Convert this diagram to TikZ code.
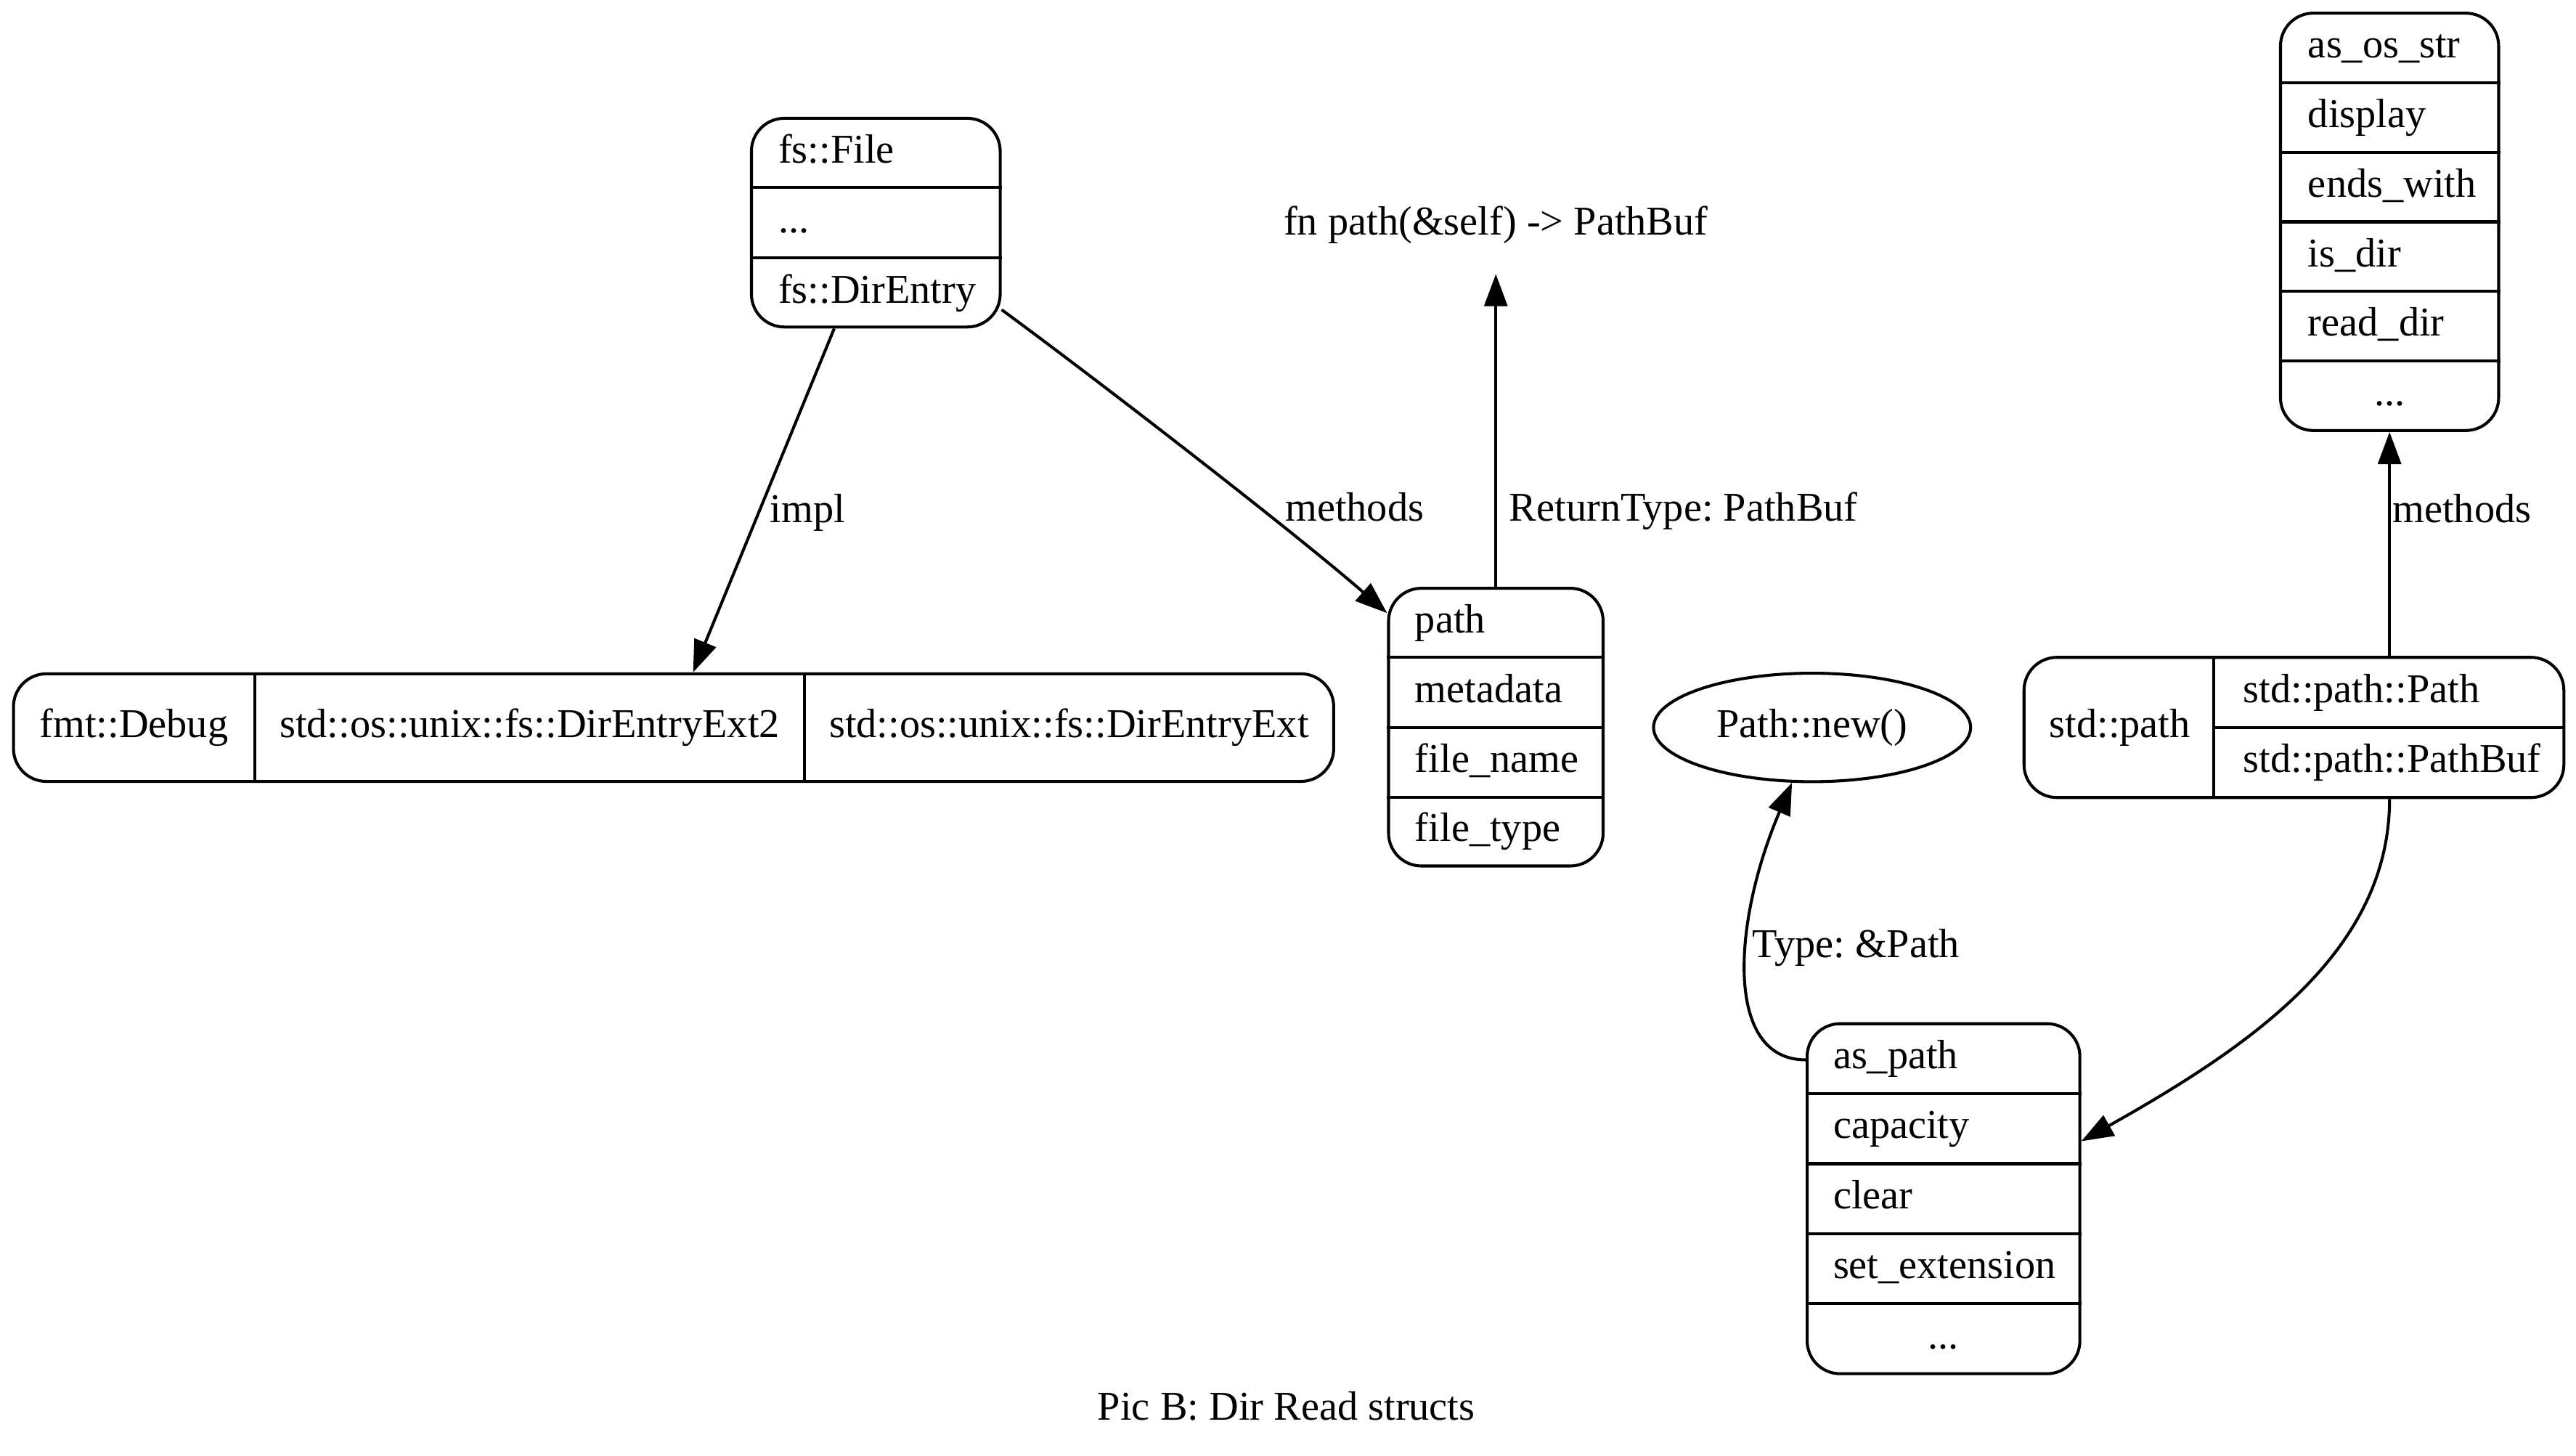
\documentclass[tikz,border=0pt]{standalone}
\usepackage{fontspec}
\setmainfont{Liberation Serif}
\usepackage{tikz}
\usetikzlibrary{calc}
\usetikzlibrary{shapes.geometric}
\usetikzlibrary{arrows.meta}
\tikzset{>={Triangle[length=19.5pt,width=14pt]}}
\frenchspacing

\begin{document}
\begin{tikzpicture}[x=1pt, y=-1pt, line width=1.8pt,
	every node/.style={font=\fontsize{24.9pt}{30pt}\selectfont, inner sep=0pt, text height=18pt, text depth=6pt},
	record/.style={draw, rounded corners=20pt}]
	\useasboundingbox (0,0) rectangle (1568,885.7);

	%% fs::File
	\node[record, minimum width=151.4pt, minimum height=127pt] (file) at (533.1,135.5) {};
	\node[anchor=west] (fsfile) at (472.9,93.2) {fs::File};
	\node[anchor=west] (fsdots) at (472.9,135.8) {...};
	\node[anchor=west] (fsentry) at (472.9,178.4) {fs::DirEntry};
	\draw (file.west |- 0,114.2) -- (file.east |- 0,114.2);
	\draw (file.west |- 0,156.8) -- (file.east |- 0,156.8);

	%% Traits
	\node[record, minimum width=803.6pt, minimum height=65.5pt] (row) at (410,442.8) {};
	\node[minimum width=147pt] (debug) at (81.5,442.8) {fmt::Debug};
	\node[minimum width=334.8pt] (ext2) at (322.4,442.8) {std::os::unix::fs::DirEntryExt2};
	\node[minimum width=321.8pt] (ext) at (650.7,442.8) {std::os::unix::fs::DirEntryExt};
	\draw (155,0 |- row.north) -- (155,0 |- row.south);
	\draw (489.8,0 |- row.north) -- (489.8,0 |- row.south);

	%% DirEntry methods
	\node[record, minimum width=130.6pt, minimum height=169pt] (pathbox) at (910.5,442.5) {};
	\node[anchor=west] (mpath) at (860.4,379.2) {path};
	\node[anchor=west] (mmeta) at (860.4,421.5) {metadata};
	\node[anchor=west] (mname) at (860.4,464.2) {file\_name};
	\node[anchor=west] (mtype) at (860.4,506.2) {file\_type};
	\draw (pathbox.west |- 0,400) -- (pathbox.east |- 0,400);
	\draw (pathbox.west |- 0,442.8) -- (pathbox.east |- 0,442.8);
	\draw (pathbox.west |- 0,485.3) -- (pathbox.east |- 0,485.3);

	\node[minimum height=58pt] (fnpath) at (910.5,136.9) {fn path(\&self) -> PathBuf};

	%% Path::new()
	\node[draw, ellipse, minimum width=193pt, minimum height=66pt] (pnew) at (1103,442.7) {};
	\node (pnewtxt) at (1103,442.7) {Path::new()};

	%% std::path
	\node[record, minimum width=328.6pt, minimum height=85.3pt] (spath) at (1396.3,442.7) {};
	\node[minimum width=116.5pt] (spathtxt) at (1290.3,442.7) {std::path};
	\node[minimum width=212pt, minimum height=85.3pt] (pcol) at (1454.5,442.7) {};
	\node[anchor=west] (spathp) at (1364.5,421.5) {std::path::Path};
	\node[anchor=west] (spathb) at (1364.5,464.2) {std::path::PathBuf};
	\draw (pcol.north west) -- (pcol.south west);
	\draw (pcol.west) -- (pcol.east);

	%% Path methods
	\node[record, minimum width=132.8pt, minimum height=254pt] (osbox) at (1454.5,135) {};
	\node[anchor=west] (osstr) at (1404,29.2) {as\_os\_str};
	\node[anchor=west] (osdisp) at (1404,71.5) {display};
	\node[anchor=west] (osends) at (1404,113.8) {ends\_with};
	\node[anchor=west] (osdir) at (1404,156.2) {is\_dir};
	\node[anchor=west] (osread) at (1404,198.5) {read\_dir};
	\node (osdots) at (1454.5,240.8) {...};
	\foreach \y in {50.3,92.7,135,177.3,219.7}
		\draw (osbox.west |- 0,\y) -- (osbox.east |- 0,\y);

	%% PathBuf methods
	\node[record, minimum width=166pt, minimum height=213pt] (asbox) at (1183,729.5) {};
	\node[anchor=west] (aspath) at (1115,644.3) {as\_path};
	\node[anchor=west] (ascap) at (1115,686.9) {capacity};
	\node[anchor=west] (asclear) at (1115,729.5) {clear};
	\node[anchor=west] (asext) at (1115,772.1) {set\_extension};
	\node (asdots) at (1183,814.7) {...};
	\foreach \y in {665.6,708.2,750.8,793.4}
		\draw (asbox.west |- 0,\y) -- (asbox.east |- 0,\y);

	%% Edges
	\draw[->] ([xshift=-25.3pt]file.south) -- ([xshift=11.9pt]row.north);
	\node (implLbl) at (491.5,312) {impl};
	%
	\draw[->] ([yshift=-53pt]file.east) .. controls +(60,44) and +(-55,-48) .. ([yshift=-16pt]pathbox.north west);
	\node (methLbl) at (824.5,311.1) {methods};
	%
	\draw[->] (pathbox.north) -- (fnpath.south);
	\node (retLbl) at (1024.7,311.1) {ReturnType: PathBuf};
	%
	\draw[->] (pcol.north) -- (osbox.south);
	\node (methLbl2) at (1498.5,312) {methods};
	%
	\draw[->] (pcol.south) .. controls +(0,92) and +(105,-59) .. ([yshift=35pt]asbox.east);
	%
	\draw[->] ([yshift=84.5pt]asbox.west) .. controls +(-50,0) and +(-36,84) .. (pnew.250);
	\node (typeLbl) at (1129.7,576.8) {Type: \&Path};

	%% Caption
	\node (caption) at (783,858) {Pic B: Dir Read structs};
\end{tikzpicture}
\end{document}
